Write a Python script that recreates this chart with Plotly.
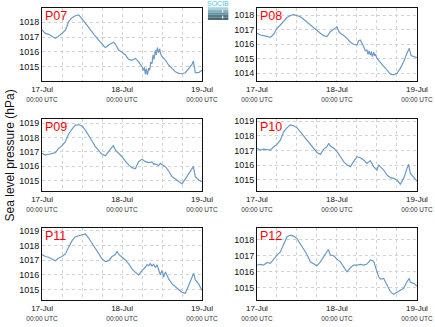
import plotly.graph_objects as go

# Hourly sea level pressure (hPa) at six stations, 17-Jul 00:00 to 19-Jul 00:00 UTC.
# Hours are counted from 17-Jul 00:00 UTC; extra sub-hour samples keep the short-period wiggles.
p07_hours = [0, 1, 2, 3, 4, 5, 6, 7, 8, 9, 10, 11, 12, 13, 14, 15, 16, 17, 18, 19, 20, 21, 21.5, 22, 23, 24,
             25, 26, 27, 28, 28.5, 29, 29.5, 30, 30.4, 30.7, 31, 31.3, 31.6, 32, 32.3, 32.6, 33, 33.3, 33.6,
             34, 34.3, 34.6, 35, 35.3, 35.6, 36, 37, 38, 39, 40, 41, 42, 43, 44, 45, 45.4, 46, 47, 48]
p07_hpa = [1017.48, 1017.25, 1017.19, 1017.03, 1016.92, 1017.07, 1017.25, 1017.46, 1018.05, 1018.32,
           1018.45, 1018.50, 1018.23, 1017.93, 1017.59, 1017.32, 1017.07, 1016.80, 1016.51, 1016.28,
           1016.47, 1016.58, 1016.66, 1016.53, 1016.13, 1015.97, 1015.79, 1015.49, 1015.43, 1015.56,
           1015.45, 1015.34, 1015.15, 1015.00, 1014.75, 1014.95, 1014.50, 1014.85, 1014.45, 1014.90,
           1014.75, 1015.30, 1015.20, 1015.80, 1015.50, 1016.10, 1015.80, 1016.30, 1015.95, 1016.20,
           1015.85, 1015.70, 1015.45, 1015.11, 1014.88, 1014.66, 1014.55, 1014.52, 1014.59, 1014.88,
           1015.15, 1015.38, 1014.60, 1014.59, 1014.75]

p08_hours = [0, 1, 2, 3, 4, 5, 6, 7, 8, 9, 10, 11, 12, 13, 14, 15, 16, 17, 18, 19, 20, 21, 22, 23, 24, 24.5,
             25, 26, 27, 28, 29, 30, 30.5, 31, 31.5, 32, 32.5, 33, 33.3, 33.6, 34, 34.3, 34.6, 35, 35.3,
             35.6, 36, 37, 38, 39, 40, 41, 42, 43, 44, 45, 45.7, 46.2, 47, 48]
p08_hpa = [1016.76, 1016.64, 1016.60, 1016.53, 1016.48, 1016.69, 1017.10, 1017.33, 1017.56, 1017.84,
           1017.98, 1018.05, 1017.98, 1017.89, 1017.72, 1017.52, 1017.33, 1017.15, 1016.97, 1016.76,
           1016.60, 1016.53, 1016.87, 1017.06, 1017.20, 1016.90, 1016.76, 1016.60, 1016.41, 1016.14,
           1016.00, 1015.95, 1016.25, 1016.30, 1016.10, 1015.84, 1015.55, 1015.60, 1015.30, 1015.55,
           1015.25, 1015.50, 1015.15, 1015.45, 1015.20, 1015.30, 1015.03, 1014.74, 1014.46, 1014.18,
           1013.95, 1013.89, 1014.00, 1014.34, 1014.80, 1015.38, 1015.72, 1015.22, 1015.15, 1015.08]

p09_hours = [0, 1, 2, 3, 4, 5, 6, 7, 8, 9, 10, 11, 12, 13, 14, 15, 16, 17, 18, 19, 20, 21, 21.4, 22, 23, 24,
             25, 26, 27, 28, 29, 30, 31, 32, 33, 33.5, 34, 35, 35.5, 36, 37, 38, 39, 40, 41, 42, 43, 44,
             45, 45.4, 46, 47, 48]
p09_hpa = [1016.90, 1016.78, 1016.83, 1016.87, 1016.94, 1017.24, 1017.43, 1017.71, 1018.24, 1018.58,
           1018.86, 1018.88, 1018.79, 1018.51, 1018.17, 1017.75, 1017.36, 1017.06, 1016.83, 1016.73,
           1017.01, 1017.24, 1017.43, 1017.13, 1016.90, 1016.66, 1016.36, 1016.09, 1015.90, 1015.82,
           1016.32, 1016.48, 1016.32, 1016.25, 1016.30, 1016.15, 1016.16, 1016.05, 1016.20, 1016.10,
           1015.97, 1015.67, 1015.28, 1015.12, 1014.93, 1014.77, 1015.12, 1015.51, 1015.86, 1015.97,
           1015.28, 1015.05, 1014.93]

p10_hours = [0, 1, 2, 3, 4, 5, 6, 7, 8, 9, 10, 11, 12, 13, 14, 15, 16, 17, 18, 19, 20, 21, 21.5, 22, 23, 24,
             25, 26, 27, 28, 29, 30, 31, 32, 33, 34, 35, 36, 36.5, 37, 38, 39, 40, 41, 42, 43, 44, 45,
             45.5, 46, 47, 48]
p10_hpa = [1017.14, 1017.02, 1017.09, 1017.07, 1017.02, 1017.25, 1017.41, 1017.70, 1018.27, 1018.55,
           1018.73, 1018.68, 1018.55, 1018.27, 1018.00, 1017.70, 1017.41, 1017.14, 1016.86, 1016.73,
           1017.09, 1017.25, 1017.48, 1017.30, 1017.14, 1016.91, 1016.57, 1016.23, 1016.00, 1015.89,
           1016.23, 1016.57, 1016.50, 1016.34, 1016.11, 1016.30, 1015.89, 1015.66, 1016.00, 1015.90,
           1015.66, 1015.32, 1015.14, 1015.09, 1014.98, 1014.70, 1015.09, 1015.77, 1016.05, 1015.43,
           1015.14, 1014.91]

p11_hours = [0, 1, 2, 3, 4, 5, 6, 7, 8, 9, 10, 11, 12, 13, 14, 15, 16, 17, 18, 19, 20, 21, 22, 22.5, 23, 24,
             25, 26, 27, 28, 29, 30, 31, 31.5, 32, 32.5, 33, 33.5, 34, 34.5, 35, 35.5, 36, 36.5, 37, 37.5,
             38, 39, 40, 41, 42, 43, 44, 45, 45.5, 46, 47, 48]
p11_hpa = [1017.37, 1017.24, 1017.19, 1017.08, 1016.96, 1017.14, 1017.24, 1017.42, 1017.87, 1018.32,
           1018.59, 1018.66, 1018.71, 1018.77, 1018.50, 1018.14, 1017.76, 1017.37, 1017.08, 1016.90,
           1016.96, 1017.24, 1017.37, 1017.60, 1017.40, 1017.19, 1017.01, 1016.74, 1016.40, 1016.17,
           1015.99, 1016.29, 1016.51, 1016.70, 1016.62, 1016.75, 1016.60, 1016.72, 1016.50, 1016.68,
           1016.30, 1016.00, 1016.30, 1015.85, 1016.20, 1015.90, 1015.72, 1015.38, 1015.20, 1015.04,
           1014.81, 1014.75, 1015.27, 1015.83, 1016.10, 1015.65, 1015.38, 1014.93]

p12_hours = [0, 1, 2, 3, 4, 5, 6, 7, 8, 9, 10, 11, 12, 13, 14, 15, 16, 17, 18, 19, 20, 21, 21.4, 22, 23, 24,
             25, 26, 27, 28, 29, 30, 31, 32, 33, 34, 35, 36, 36.5, 37, 38, 39, 40, 41, 42, 43, 44, 45,
             45.7, 46, 47, 48]
p12_hpa = [1016.41, 1016.45, 1016.41, 1016.57, 1016.51, 1016.78, 1017.03, 1017.23, 1017.69, 1018.17,
           1018.27, 1018.21, 1018.06, 1017.75, 1017.44, 1017.07, 1016.61, 1016.47, 1016.36, 1016.61,
           1016.92, 1017.28, 1017.38, 1017.03, 1016.99, 1016.78, 1016.61, 1016.30, 1015.99, 1016.24,
           1016.41, 1016.41, 1016.45, 1016.41, 1016.47, 1016.72, 1016.65, 1015.99, 1015.68, 1015.54,
           1015.58, 1015.16, 1014.75, 1014.58, 1014.71, 1014.79, 1014.96, 1015.37, 1015.58, 1015.33,
           1015.27, 1015.10]

stations = ["P07", "P08", "P09", "P10", "P11", "P12"]
series_hours = [p07_hours, p08_hours, p09_hours, p10_hours, p11_hours, p12_hours]
series_hpa = [p07_hpa, p08_hpa, p09_hpa, p10_hpa, p11_hpa, p12_hpa]

tick_hours = [0, 24, 48]
tick_days = ["17-Jul", "18-Jul", "19-Jul"]
tick_time = "00:00 UTC"

# Panel geometry (paper fractions) and per-panel pressure windows
col_domains = [[0.0966, 0.4644], [0.5908, 0.9586]]
row_domains = [[0.7523, 0.9755], [0.4159, 0.6361], [0.0826, 0.3028]]
y_windows = [[1014.03, 1018.97], [1013.47, 1018.5], [1014.28, 1019.28],
             [1014.23, 1019.14], [1014.29, 1019.18], [1014.23, 1018.72]]

FONT = "Liberation Sans, Arial, sans-serif"
LINE = "#6b9bc8"
GRID = "#d2d2d2"

ticktext = [f"{d}<br><span style='font-size:6.5px;color:#333'>{tick_time}</span>" for d in tick_days]

fig = go.Figure()
layout = {}
for i, (name, hrs, vals) in enumerate(zip(stations, series_hours, series_hpa)):
    row, col = divmod(i, 2)
    n = i + 1
    xa = "x" if n == 1 else f"x{n}"
    ya = "y" if n == 1 else f"y{n}"
    fig.add_trace(go.Scatter(x=hrs, y=vals, mode="lines", xaxis=xa, yaxis=ya,
                             line=dict(color=LINE, width=1.2), showlegend=False,
                             hoverinfo="skip"))
    xkey = "xaxis" if n == 1 else f"xaxis{n}"
    ykey = "yaxis" if n == 1 else f"yaxis{n}"
    layout[xkey] = dict(
        domain=col_domains[col], anchor=ya, range=[0, 48], automargin=False,
        tickmode="array", tickvals=tick_hours, ticktext=ticktext,
        tickfont=dict(family=FONT, size=8, color="#111"),
        showgrid=True, gridcolor=GRID, griddash="dot", gridwidth=1,
        minor=dict(tick0=0, dtick=6, showgrid=True, gridcolor=GRID, griddash="dot", gridwidth=1),
        showline=True, linecolor="#111", linewidth=1, mirror=True,
        ticks="", zeroline=False, fixedrange=True,
    )
    layout[ykey] = dict(
        domain=row_domains[row], anchor=xa, range=y_windows[i], automargin=False,
        dtick=1, tick0=1000, tickformat="d",
        tickfont=dict(family=FONT, size=9, color="#111"),
        showgrid=True, gridcolor=GRID, griddash="dot", gridwidth=1,
        showline=True, linecolor="#111", linewidth=1, mirror=True,
        ticks="", zeroline=False, fixedrange=True,
    )
    fig.add_annotation(text=name, xref="paper", yref="paper",
                       x=col_domains[col][0] + 0.002, y=row_domains[row][1] + 0.004,
                       xanchor="left", yanchor="top", showarrow=False,
                       font=dict(family=FONT, size=12.5, color="#ff0000"))

# Shared y-axis title
fig.add_annotation(text="Sea level pressure (hPa)", xref="paper", yref="paper",
                   x=0.024, y=0.526, xanchor="center", yanchor="middle",
                   textangle=-90, showarrow=False,
                   font=dict(family=FONT, size=12, color="#111"))

# Small SOCIB logo between the top panels
logo_bands = ["#a9d3e0", "#86b4c4", "#6a95a6", "#557b8a", "#466673"]
x0, x1 = 0.478, 0.525
ytop, ybot = 0.978, 0.939
step = (ytop - ybot) / len(logo_bands)
shapes = []
for k, c in enumerate(logo_bands):
    shapes.append(dict(type="rect", xref="paper", yref="paper", x0=x0, x1=x1,
                       y0=ytop - (k + 1) * step, y1=ytop - k * step,
                       fillcolor=c, line=dict(width=0)))
shapes.append(dict(type="line", xref="paper", yref="paper", x0=0.512, x1=0.512,
                   y0=ybot + 0.004, y1=ytop - 0.004,
                   line=dict(color="white", width=1, dash="dot")))
fig.add_annotation(text="SOCIB", xref="paper", yref="paper", x=0.5015, y=0.99,
                   xanchor="center", yanchor="middle", showarrow=False,
                   font=dict(family=FONT, size=7, color="#4fc4de"))

fig.update_layout(
    width=435, height=327, margin=dict(l=0, r=0, t=0, b=0),
    paper_bgcolor="white", plot_bgcolor="white",
    shapes=shapes, **layout,
)

fig.write_html("out.html", config={"displayModeBar": False})
